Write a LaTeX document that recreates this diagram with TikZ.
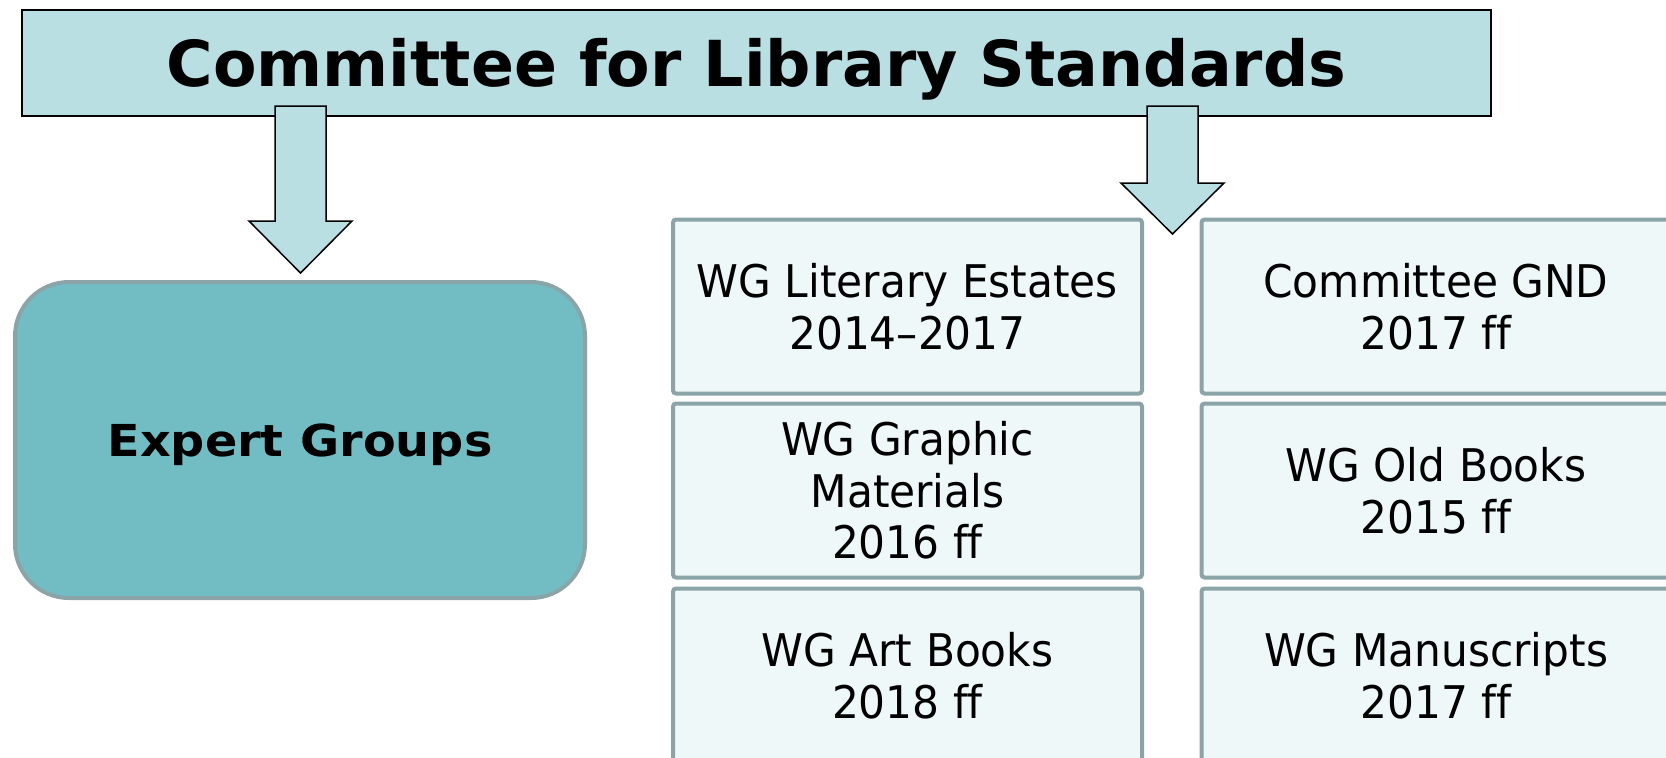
\documentclass[tikz,border=0pt]{standalone}
\usepackage{fontspec}
\setmainfont{DejaVu Sans}
\newfontfamily\boxfont{DejaVu Sans}[FakeStretch=0.94, Ligatures=NoCommon]
\newfontfamily\expfont{DejaVu Sans}[FakeStretch=1.085]
\newcommand\twof{f\kern0ptf}
\definecolor{topfill}{HTML}{B9DFE3}
\definecolor{expfill}{HTML}{72BDC4}
\definecolor{grayline}{HTML}{8AA4A8}
\definecolor{wgfill}{HTML}{EFF8F8}
\tikzset{
  topbox/.style={draw=black, line width=0.75pt, fill=topfill, inner sep=0pt,
    minimum width=734.5pt, minimum height=53pt,
    font=\fontsize{31.7}{31.7}\selectfont\bfseries, text height=23.1pt, text depth=0pt},
  blockarrow/.style={draw=black, line width=0.75pt, fill=topfill, line join=miter},
  expbox/.style={draw=grayline, line width=2pt, fill=expfill, rounded corners=27pt,
    minimum width=285pt, minimum height=158pt, inner sep=0pt,
    font=\expfont\fontsize{22}{22}\selectfont\bfseries, text height=16pt, text depth=0pt},
  wgbox/.style={draw=grayline, line width=2pt, fill=wgfill, rounded corners=1.5pt,
    minimum width=234.5pt, minimum height=87pt, inner sep=0pt, align=center,
    font=\boxfont\fontsize{22.5}{25.75}\selectfont}
}
\begin{document}
\begin{tikzpicture}[x=0.5pt,y=-0.5pt]
\useasboundingbox (0,0) rectangle (1666,757);
\node[topbox] (top) at (756.5,63) {Committee for Library Standards};
\node[expbox] (exp) at (300,440) {Expert Groups};
% working groups
\node[wgbox] (lit) at (907.5,306.5) {WG Literary Estates\\2014–2017};
\node[wgbox] (gra) at (907.5,490.5) {WG Graphic\\Materials\\2016 \twof};
\node[wgbox] (art) at (907.5,675.5) {WG Art Books\\2018 \twof};
\node[wgbox] (gnd) at (1436,306.5) {Committee GND\\2017 \twof};
\node[wgbox] (old) at (1436,490.5) {WG Old Books\\2015 \twof};
\node[wgbox] (man) at (1436,675.5) {WG Manuscripts\\2017 \twof};
% block arrows
\draw[blockarrow] (275,106) -- (326,106) -- (326,221) -- (352,221) -- (300.5,273)
  -- (249,221) -- (275,221) -- cycle;
\draw[blockarrow] (1147,106) -- (1198,106) -- (1198,183) -- (1224,183) -- (1172.5,234)
  -- (1121,183) -- (1147,183) -- cycle;
\end{tikzpicture}
\end{document}
